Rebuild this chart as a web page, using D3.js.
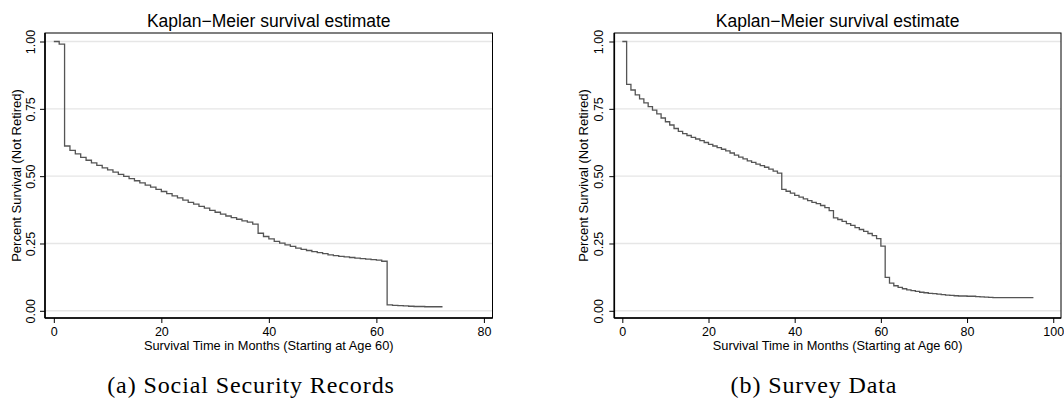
<!DOCTYPE html>
<html>
<head>
<meta charset="utf-8">
<script src="https://cdn.jsdelivr.net/npm/d3@7"></script>
<style>
  html, body { margin: 0; padding: 0; background: #fff; }
  svg { display: block; }
</style>
</head>
<body>
<svg id="chart" width="1064" height="408"></svg>
<script>
// ---------- data ----------
const chartTitle = "Kaplan\u2212Meier survival estimate";
const yAxisTitle = "Percent Survival (Not Retired)";
const xAxisTitle = "Survival Time in Months (Starting at Age 60)";
const yTicks = [0, 0.25, 0.5, 0.75, 1];
const ssaXTicks = [0, 20, 40, 60, 80];
const surveyXTicks = [0, 20, 40, 60, 80, 100];
const captions = ["(a) Social Security Records", "(b) Survey Data"];

// Social Security Records: survival value at the start of each month 0..72
const ssaSurvival = [
  1.000, 0.990, 0.612, 0.596, 0.583, 0.570, 0.559, 0.549, 0.540, 0.531,
  0.523, 0.515, 0.507, 0.499, 0.491, 0.483, 0.475, 0.467, 0.459, 0.451,
  0.443, 0.435, 0.427, 0.419, 0.411, 0.403, 0.396, 0.388, 0.381, 0.373,
  0.366, 0.359, 0.352, 0.346, 0.340, 0.334, 0.329, 0.322, 0.288, 0.276,
  0.267, 0.258, 0.251, 0.245, 0.239, 0.233, 0.228, 0.224, 0.220, 0.216,
  0.212, 0.208, 0.205, 0.202, 0.200, 0.198, 0.196, 0.194, 0.192, 0.190,
  0.188, 0.184, 0.022, 0.020, 0.019, 0.018, 0.017, 0.016, 0.016, 0.015,
  0.015, 0.015, 0.015
];
const ssaEnd = 72.3;

// Survey Data: survival value at the start of each month 0..95
const surveySurvival = [
  1.000, 0.841, 0.820, 0.802, 0.787, 0.772, 0.758, 0.745, 0.731, 0.716,
  0.702, 0.690, 0.677, 0.666, 0.658, 0.651, 0.644, 0.638, 0.632, 0.625,
  0.618, 0.612, 0.606, 0.600, 0.594, 0.586, 0.578, 0.571, 0.564, 0.557,
  0.551, 0.545, 0.539, 0.533, 0.526, 0.519, 0.511, 0.451, 0.444, 0.437,
  0.429, 0.422, 0.416, 0.409, 0.403, 0.398, 0.391, 0.383, 0.372, 0.345,
  0.339, 0.332, 0.324, 0.317, 0.309, 0.302, 0.295, 0.287, 0.279, 0.268,
  0.240, 0.124, 0.103, 0.093, 0.087, 0.082, 0.078, 0.075, 0.072, 0.069,
  0.067, 0.065, 0.064, 0.062, 0.060, 0.058, 0.057, 0.056, 0.055, 0.055,
  0.054, 0.054, 0.053, 0.052, 0.051, 0.050, 0.049, 0.049, 0.049, 0.049,
  0.049, 0.049, 0.049, 0.049, 0.049, 0.049
];
const surveyEnd = 95.4;

// ---------- layout ----------
const panels = [
  { values: ssaSurvival, end: ssaEnd, xTicks: ssaXTicks, caption: captions[0],
    frame: { left: 45, right: 492.5, top: 33, bottom: 318 },
    xDomain: [-1.64, 81.6], captionX: 251, yLabelX: 35, yTitleX: 20.5 },
  { values: surveySurvival, end: surveyEnd, xTicks: surveyXTicks, caption: captions[1],
    frame: { left: 614.3, right: 1061, top: 33, bottom: 318 },
    xDomain: [-1.86, 101.8], captionX: 814, yLabelX: 603, yTitleX: 588 }
];
const yDomain = [-0.0267, 1.0316];

const svg = d3.select("#chart");
const sans = "'Liberation Sans', Arial, Helvetica, sans-serif";

panels.forEach(p => {
  const f = p.frame;
  const x = d3.scaleLinear().domain(p.xDomain).range([f.left, f.right]);
  const y = d3.scaleLinear().domain(yDomain).range([f.bottom, f.top]);
  const g = svg.append("g");

  // grid lines
  g.append("g").selectAll("line").data(yTicks).join("line")
    .attr("x1", f.left).attr("x2", f.right)
    .attr("y1", d => y(d)).attr("y2", d => y(d))
    .attr("stroke", "#e6e6e6").attr("stroke-width", 1.4);

  // survival step curve
  const pts = p.values.map((v, i) => [i, v]);
  pts.push([p.end, p.values[p.values.length - 1]]);
  const line = d3.line().x(d => x(d[0])).y(d => y(d[1])).curve(d3.curveStepAfter);
  g.append("path").datum(pts)
    .attr("d", line)
    .attr("fill", "none")
    .attr("stroke", "#555")
    .attr("stroke-width", 1.3);

  // frame
  g.append("rect")
    .attr("x", f.left).attr("y", f.top)
    .attr("width", f.right - f.left).attr("height", f.bottom - f.top)
    .attr("fill", "none").attr("stroke", "#000").attr("stroke-width", 1);

  // y axis
  const yAxis = d3.axisLeft(y).tickValues(yTicks).tickFormat(d3.format(".2f"))
    .tickSizeInner(5).tickSizeOuter(0);
  const ya = g.append("g").attr("transform", `translate(${f.left},0)`).call(yAxis);
  ya.select(".domain").remove();
  ya.selectAll(".tick line").attr("stroke", "#000");
  ya.selectAll(".tick text")
    .attr("x", null).attr("dy", null)
    .attr("transform", `translate(${p.yLabelX - f.left},0) rotate(-90)`)
    .attr("text-anchor", "middle")
    .attr("font-family", sans).attr("font-size", 12.5).attr("fill", "#000");
  g.append("line")
    .attr("x1", f.left).attr("x2", f.left).attr("y1", f.top).attr("y2", f.bottom)
    .attr("stroke", "#000").attr("stroke-width", 1.6);

  // x axis
  const xAxis = d3.axisBottom(x).tickValues(p.xTicks).tickFormat(d3.format("d"))
    .tickSizeInner(5).tickSizeOuter(0);
  const xa = g.append("g").attr("transform", `translate(0,${f.bottom})`).call(xAxis);
  xa.select(".domain").remove();
  xa.selectAll(".tick line").attr("stroke", "#000");
  xa.selectAll(".tick text")
    .attr("y", 18).attr("dy", null)
    .attr("font-family", sans).attr("font-size", 12.5).attr("fill", "#000");
  g.append("line")
    .attr("x1", f.left).attr("x2", f.right).attr("y1", f.bottom).attr("y2", f.bottom)
    .attr("stroke", "#000").attr("stroke-width", 1.6);

  const cx = (f.left + f.right) / 2;
  // title
  g.append("text").attr("x", cx).attr("y", 26.5)
    .attr("text-anchor", "middle").attr("font-family", sans)
    .attr("font-size", 17.5).attr("fill", "#000").text(chartTitle);
  // x title
  g.append("text").attr("x", cx).attr("y", 350)
    .attr("text-anchor", "middle").attr("font-family", sans)
    .attr("font-size", 12.8).attr("fill", "#000").text(xAxisTitle);
  // y title
  g.append("text")
    .attr("transform", `translate(${p.yTitleX},${(f.top + f.bottom) / 2}) rotate(-90)`)
    .attr("text-anchor", "middle").attr("font-family", sans)
    .attr("font-size", 13).attr("fill", "#000").text(yAxisTitle);
  // caption
  g.append("text").attr("x", p.captionX).attr("y", 393)
    .attr("text-anchor", "middle")
    .attr("font-family", "'Liberation Serif', 'Times New Roman', serif")
    .attr("font-size", 24).attr("letter-spacing", 0.9)
    .attr("fill", "#000").text(p.caption);
});
</script>
</body>
</html>
